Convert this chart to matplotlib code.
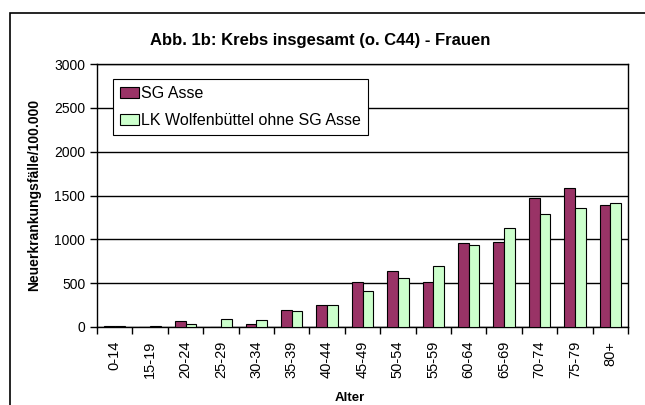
import matplotlib
matplotlib.use("Agg")
import matplotlib.pyplot as plt
import numpy as np
from matplotlib.patches import Rectangle
from matplotlib.legend_handler import HandlerPatch

plt.rcParams["font.family"] = ["Liberation Sans", "DejaVu Sans"]

# age groups and rates per 100.000
alter = ["0-14", "15-19", "20-24", "25-29", "30-34", "35-39", "40-44", "45-49",
         "50-54", "55-59", "60-64", "65-69", "70-74", "75-79", "80+"]
sg_asse = [15, 0, 65, 0, 38, 193, 250, 510, 638, 508, 962, 967, 1466, 1585, 1394]
lk_wolf = [8, 15, 30, 91, 80, 182, 250, 409, 554, 699, 936, 1134, 1287, 1356, 1413]

fig = plt.figure(figsize=(6.45, 4.05), dpi=100)
ax = fig.add_axes([97 / 645, 78 / 405, 531 / 645, 263 / 405])

# outer chart frame (right and bottom edge lie outside the picture)
fig.patches.append(Rectangle((9.5 / 645, -0.05), 0.99, 1.05 - 13 / 405,
                             transform=fig.transFigure, fill=False,
                             edgecolor="black", linewidth=1.2))

x = np.arange(len(alter))
w = 0.30
ax.bar(x - w / 2, sg_asse, w, color="#993366", edgecolor="black",
       linewidth=0.8, label="SG Asse", zorder=3)
ax.bar(x + w / 2, lk_wolf, w, color="#CCFFCC", edgecolor="black",
       linewidth=0.8, label="LK Wolfenbüttel ohne SG Asse", zorder=3)

ax.set_xlim(-0.5, len(alter) - 0.5)
ax.set_ylim(0, 3000)
ax.set_yticks(range(0, 3001, 500))
ax.yaxis.grid(True, color="black", linewidth=1.0, zorder=0)
ax.set_xticks(x)
ax.set_xticklabels(alter, rotation=90, fontsize=10.5)
ax.set_xticks(np.arange(-0.5, len(alter), 1), minor=True)
ax.tick_params(axis="x", which="major", length=0, pad=10)
ax.tick_params(axis="x", which="minor", length=5, width=1.0)
ax.tick_params(axis="y", labelsize=10, length=5, width=1.0)
for s in ax.spines.values():
    s.set_linewidth(1.0)

fig.text(320 / 645, 1 - 40 / 405, "Abb. 1b: Krebs insgesamt (o. C44) - Frauen",
         ha="center", va="center", fontsize=12, fontweight="bold")
fig.text(350 / 645, 1 - 398 / 405, "Alter", ha="center", va="center",
         fontsize=9.5, fontweight="bold")
fig.text(34 / 645, 1 - 195 / 405, "Neuerkrankungsfälle/100.000", ha="center",
         va="center", rotation=90, fontsize=10, fontweight="bold")


# small square legend keys, pushed to the right end of the handle box
def square_key(legend, orig_handle, xdescent, ydescent, width, height, fontsize):
    s = 8.4
    return Rectangle((width - s - xdescent, (height - s) / 2 - ydescent), s, s)


leg = ax.legend(loc="upper left", bbox_to_anchor=(15.5 / 531, 1 - 15 / 263),
                fontsize=11.5, frameon=True, fancybox=False, framealpha=1,
                edgecolor="black", handlelength=1.21, handleheight=0.75,
                handletextpad=0.15, borderpad=0.45, labelspacing=0.75,
                borderaxespad=0,
                handler_map={Rectangle: HandlerPatch(patch_func=square_key)})
leg.get_frame().set_linewidth(0.8)

fig.savefig("out.png", dpi=100)
